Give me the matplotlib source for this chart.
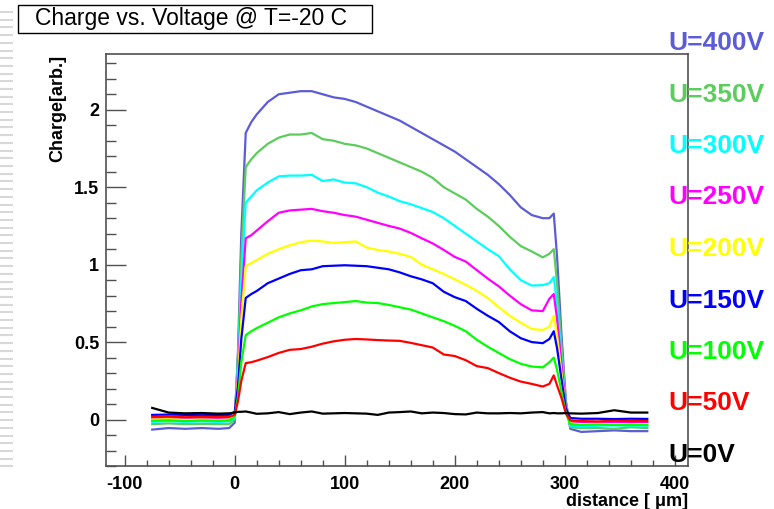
import matplotlib
matplotlib.use("Agg")
import matplotlib.pyplot as plt
from matplotlib.ticker import MultipleLocator
from matplotlib.patches import Rectangle
from matplotlib.lines import Line2D

plt.rcParams['font.family'] = ['Liberation Sans', 'DejaVu Sans']
plt.rcParams['axes.unicode_minus'] = False

# distance positions [um], shared by all curves
distance = [-75, -60, -45, -30, -15, -5,
            0, 3, 6,
            10, 15, 20, 30, 40, 50, 60, 70, 80, 90, 100, 110, 120, 130, 140,
            150, 160, 170, 180, 190, 200, 210, 220, 230, 240, 250, 260, 270,
            280, 286, 290,
            293, 297, 301,
            305, 315, 330, 345, 360, 375]

q_400 = [-0.065, -0.055, -0.06, -0.055, -0.06, -0.055,
         -0.02, 0.45, 1.2,
         1.85, 1.92, 1.97, 2.05, 2.10, 2.11, 2.12, 2.12, 2.10, 2.08, 2.07, 2.05, 2.02, 1.99, 1.96,
         1.93, 1.89, 1.85, 1.81, 1.77, 1.73, 1.68, 1.63, 1.58, 1.52, 1.45, 1.37, 1.32,
         1.30, 1.30, 1.33,
         1.05, 0.55, 0.12,
         -0.06, -0.08, -0.075, -0.07, -0.075, -0.075]
q_350 = [-0.03, -0.025, -0.03, -0.028, -0.03, -0.03,
         0.0, 0.4, 1.05,
         1.63, 1.68, 1.72, 1.78, 1.82, 1.84, 1.84, 1.85, 1.81, 1.80, 1.78, 1.77, 1.75, 1.72, 1.69,
         1.66, 1.63, 1.60, 1.56, 1.50, 1.46, 1.42, 1.36, 1.31, 1.25, 1.18, 1.12, 1.085,
         1.047, 1.07, 1.10,
         0.88, 0.48, 0.11,
         -0.05, -0.055, -0.055, -0.06, -0.05, -0.055]
q_300 = [-0.015, -0.01, -0.015, -0.012, -0.015, -0.012,
         0.01, 0.35, 0.9,
         1.40, 1.44, 1.48, 1.53, 1.57, 1.575, 1.575, 1.58, 1.54, 1.55, 1.53, 1.525, 1.50, 1.465, 1.44,
         1.41, 1.39, 1.365, 1.34, 1.30, 1.25, 1.20, 1.15, 1.10, 1.055, 0.97, 0.90, 0.865,
         0.868, 0.88, 0.92,
         0.74, 0.4, 0.09,
         -0.04, -0.045, -0.04, -0.038, -0.04, -0.04]
q_250 = [0.01, 0.012, 0.008, 0.01, 0.007, 0.008,
         0.03, 0.3, 0.76,
         1.17, 1.19, 1.22, 1.28, 1.335, 1.35, 1.355, 1.36, 1.345, 1.335, 1.32, 1.31, 1.29, 1.27, 1.25,
         1.233, 1.205, 1.17, 1.137, 1.095, 1.05, 1.02, 0.965, 0.91, 0.86, 0.80, 0.745, 0.705,
         0.70, 0.78, 0.81,
         0.65, 0.36, 0.08,
         -0.015, -0.02, -0.018, -0.02, -0.022, -0.02]
q_200 = [0.0, 0.002, -0.002, 0.0, -0.003, 0.0,
         0.02, 0.26, 0.65,
         0.99, 1.01, 1.03, 1.07, 1.10, 1.125, 1.145, 1.155, 1.15, 1.14, 1.145, 1.15, 1.11, 1.095, 1.085,
         1.07, 1.05, 1.00, 0.97, 0.94, 0.905, 0.87, 0.83, 0.785, 0.725, 0.67, 0.625, 0.585,
         0.578, 0.60, 0.67,
         0.54, 0.3, 0.06,
         -0.025, -0.03, -0.028, -0.03, -0.032, -0.03]
q_150 = [0.03, 0.032, 0.03, 0.028, 0.03, 0.03,
         0.05, 0.22, 0.52,
         0.785, 0.81, 0.83, 0.88, 0.91, 0.94, 0.964, 0.97, 0.99, 0.993, 0.996, 0.993, 0.99, 0.98, 0.97,
         0.95, 0.925, 0.905, 0.88, 0.825, 0.79, 0.765, 0.715, 0.67, 0.63, 0.57, 0.525, 0.50,
         0.493, 0.52, 0.57,
         0.46, 0.26, 0.07,
         0.01, 0.005, 0.005, 0.003, 0.005, 0.004]
q_100 = [-0.008, -0.005, -0.01, -0.006, -0.008, -0.006,
         0.02, 0.15, 0.37,
         0.545, 0.57, 0.59, 0.625, 0.66, 0.685, 0.705, 0.73, 0.745, 0.752, 0.758, 0.765, 0.755, 0.752, 0.74,
         0.725, 0.71, 0.685, 0.66, 0.635, 0.605, 0.57, 0.515, 0.47, 0.43, 0.39, 0.36, 0.342,
         0.337, 0.37, 0.40,
         0.32, 0.18, 0.04,
         -0.03, -0.035, -0.032, -0.035, -0.036, -0.035]
q_50 = [0.018, 0.02, 0.015, 0.018, 0.016, 0.018,
        0.03, 0.12, 0.25,
        0.364, 0.37, 0.38, 0.403, 0.43, 0.45, 0.455, 0.47, 0.49, 0.505, 0.515, 0.52, 0.517, 0.513, 0.51,
        0.508, 0.495, 0.48, 0.465, 0.42, 0.41, 0.383, 0.345, 0.332, 0.30, 0.27, 0.245, 0.23,
        0.213, 0.23, 0.285,
        0.22, 0.14, 0.04,
        -0.005, -0.01, -0.012, -0.008, -0.01, -0.01]
q_0 = [0.075, 0.045, 0.04, 0.042, 0.038, 0.04,
       0.045, 0.05, 0.05,
       0.052, 0.045, 0.037, 0.04, 0.048, 0.035, 0.045, 0.052, 0.038, 0.04, 0.042, 0.04, 0.038, 0.03, 0.045,
       0.048, 0.052, 0.04, 0.045, 0.042, 0.035, 0.033, 0.045, 0.04, 0.04, 0.042, 0.04, 0.045,
       0.048, 0.04, 0.042,
       0.04, 0.04, 0.042,
       0.04, 0.038, 0.042, 0.06, 0.045, 0.045]

labels = ["U=400V", "U=350V", "U=300V", "U=250V", "U=200V",
          "U=150V", "U=100V", "U=50V", "U=0V"]
series = [q_400, q_350, q_300, q_250, q_200, q_150, q_100, q_50, q_0]
colors = ["#5c5cd6", "#5ccc5c", "#00ffff", "#ff00ff", "#ffff00",
          "#0000ff", "#00ff00", "#ff0000", "#000000"]

fig = plt.figure(figsize=(7.74, 5.09), dpi=100)
W, H = 774.0, 509.0
ax = fig.add_axes([106 / W, 43 / H, 582 / W, 412 / H])

# black (0V) drawn last so it sits on top
for q, c in zip(series, colors):
    ax.plot(distance, q, color=c, lw=1.6)

ax.set_xlim(-117, 412)
ax.set_ylim(-0.30, 2.36)

ax.xaxis.set_major_locator(MultipleLocator(100))
ax.xaxis.set_minor_locator(MultipleLocator(20))
ax.yaxis.set_major_locator(MultipleLocator(0.5))
ax.yaxis.set_minor_locator(MultipleLocator(0.1))
ax.yaxis.set_major_formatter(plt.FuncFormatter(lambda v, p: "%g" % v))

frame = "#505050"
for s in ax.spines.values():
    s.set_color(frame)
    s.set_linewidth(1.2)
ax.tick_params(axis='x', which='major', direction='in', length=8, width=1, color=frame, pad=7,
               top=False, labelsize=13)
ax.tick_params(axis='x', which='minor', direction='in', length=4.3, width=1, color=frame, top=False)
ax.tick_params(axis='y', which='major', direction='in', length=14.4, width=1, color=frame, pad=5,
               right=False, labelsize=13)
ax.tick_params(axis='y', which='minor', direction='in', length=7.2, width=1, color=frame, right=False)
for t in ax.get_xticklabels() + ax.get_yticklabels():
    t.set_fontweight('bold')

fig.text(58 / W, 1 - 55 / H, "Charge[arb.]", rotation=90, ha='center', va='top',
         fontsize=13, fontweight='bold')
fig.text(688 / W, 1 - 501 / H, "distance [ \u03bcm]", ha='right', va='center',
         fontsize=13, fontweight='bold')

# title box
fig.add_artist(Rectangle((18 / W, 1 - 33 / H), 354 / W, 28 / H, transform=fig.transFigure,
                         facecolor='white', edgecolor='black', lw=1))
fig.text(35 / W, 1 - 19 / H, "Charge vs. Voltage @ T=-20 C", ha='left', va='center',
         fontsize=16.5)

# voltage labels at right
for i, (lab, c) in enumerate(zip(labels, colors)):
    fig.text(668 / W, 1 - (43 + i * 51.5) / H, lab, color=c, ha='left', va='center',
             fontsize=19, fontweight='bold')

# faint stripes on the left edge
for k in range(60):
    yy = 1 - (12 + k * 7.7) / H
    if yy < 0:
        break
    fig.add_artist(Line2D([0, 12 / W], [yy, yy], transform=fig.transFigure,
                          color='#d8d8d8', lw=1.5))

fig.savefig('out.png', dpi=100)
